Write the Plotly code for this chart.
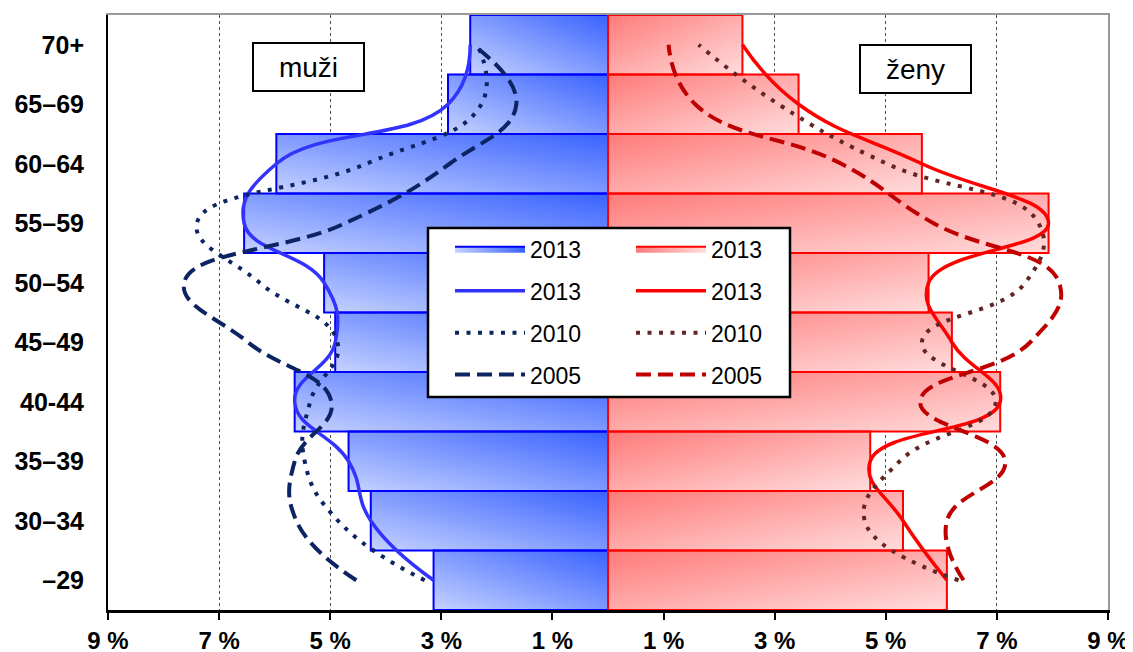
import plotly.graph_objects as go

# ---------------- data (bottom -> top) ----------------
categories = ["–29", "30–34", "35–39", "40-44", "45–49", "50–54", "55–59", "60–64", "65–69", "70+"]

men_2013 = [3.14, 4.27, 4.67, 5.64, 4.91, 5.11, 6.55, 5.97, 2.88, 2.48]
men_2010 = [3.30, 4.86, 5.46, 5.36, 4.87, 6.27, 7.40, 4.35, 2.28, 2.35]
men_2005 = [4.53, 5.61, 5.64, 4.98, 6.48, 7.63, 4.73, 2.85, 1.65, 2.43]

women_2013 = [6.10, 5.31, 4.72, 7.06, 6.19, 5.77, 7.93, 5.65, 3.43, 2.42]
women_2010 = [6.31, 4.62, 5.25, 6.98, 5.65, 7.51, 7.75, 5.02, 3.07, 1.63]
women_2005 = [6.40, 6.10, 7.15, 5.62, 7.60, 8.12, 5.86, 4.20, 1.57, 1.09]

x_tick_values = [-9, -7, -5, -3, -1, 1, 3, 5, 7, 9]
x_tick_labels = ["9 %", "7 %", "5 %", "3 %", "1 %", "1 %", "3 %", "5 %", "7 %", "9 %"]

label_men = "muži"
label_women = "ženy"

# ---------------- styles ----------------
FONT = "Arial, 'Liberation Sans', sans-serif"
MEN_LIGHT = (198, 210, 255)
MEN_DARK = (56, 98, 255)
WOMEN_LIGHT = (255, 220, 220)
WOMEN_DARK = (255, 122, 122)
MEN_BORDER = "#0000FF"
WOMEN_BORDER = "#FF0000"
MEN_LINE = "#3333FF"
MEN_OLD = "#0C2461"
WOMEN_LINE = "#FF0000"
WOMEN_2010 = "#632523"
WOMEN_2005 = "#C00000"
DOT = "4px,7.5px"
DASH = "15px,7px"
SMOOTH = 1.3
HALF = 0.5


def rgba(c, a):
    return f"rgba({c[0]},{c[1]},{c[2]},{a})"


pos = list(range(len(categories)))
fig = go.Figure()

# gradient fills of the bars (vertical opaque + horizontal half-transparent = diagonal)
for values, sign, light, dark in [(men_2013, -1, MEN_LIGHT, MEN_DARK),
                                  (women_2013, 1, WOMEN_LIGHT, WOMEN_DARK)]:
    for p, v in zip(pos, values):
        xs = [0, sign * v, sign * v, 0, 0]
        ys = [p - HALF, p - HALF, p + HALF, p + HALF, p - HALF]
        fig.add_trace(go.Scatter(
            x=xs, y=ys, mode="none", fill="toself",
            fillgradient=dict(type="vertical",
                              colorscale=[[0, rgba(light, 1)], [1, rgba(dark, 1)]]),
            hoverinfo="skip", showlegend=False))
        if sign < 0:
            cs = [[0, rgba(light, 0.5)], [1, rgba(dark, 0.5)]]
        else:
            cs = [[0, rgba(dark, 0.5)], [1, rgba(light, 0.5)]]
        fig.add_trace(go.Scatter(
            x=xs, y=ys, mode="none", fill="toself",
            fillgradient=dict(type="horizontal", colorscale=cs),
            hoverinfo="skip", showlegend=False))

# bars (borders) on overlay axes
fig.add_trace(go.Bar(x=[-v for v in men_2013], y=pos, orientation="h", width=1,
                     marker=dict(color="rgba(0,0,0,0)", line=dict(color=MEN_BORDER, width=2)),
                     xaxis="x2", yaxis="y2", showlegend=False, name="muži 2013",
                     customdata=men_2013, hovertemplate="%{customdata} %<extra></extra>"))
fig.add_trace(go.Bar(x=women_2013, y=pos, orientation="h", width=1,
                     marker=dict(color="rgba(0,0,0,0)", line=dict(color=WOMEN_BORDER, width=2)),
                     xaxis="x2", yaxis="y2", showlegend=False, name="ženy 2013",
                     hovertemplate="%{x} %<extra></extra>"))

# legend entries for the bars
fig.add_trace(go.Scatter(x=[None], y=[None], mode="lines", fill="toself", name="2013",
                         line=dict(color=MEN_BORDER, width=2),
                         fillgradient=dict(type="horizontal",
                                           colorscale=[[0, rgba(MEN_LIGHT, 1)], [1, rgba(MEN_DARK, 1)]]),
                         xaxis="x2", yaxis="y2", legend="legend", legendgroup="m1"))
fig.add_trace(go.Scatter(x=[None], y=[None], mode="lines", fill="toself", name="2013",
                         line=dict(color=WOMEN_BORDER, width=2),
                         fillgradient=dict(type="horizontal",
                                           colorscale=[[0, rgba(WOMEN_DARK, 1)], [1, rgba(WOMEN_LIGHT, 1)]]),
                         xaxis="x2", yaxis="y2", legend="legend2", legendgroup="w1"))

# lines
series = [
    (men_2013, -1, MEN_LINE, None, 3.5, "legend", "m2"),
    (men_2010, -1, MEN_OLD, DOT, 4, "legend", "m3"),
    (men_2005, -1, MEN_OLD, DASH, 4, "legend", "m4"),
    (women_2013, 1, WOMEN_LINE, None, 3.5, "legend2", "w2"),
    (women_2010, 1, WOMEN_2010, DOT, 4, "legend2", "w3"),
    (women_2005, 1, WOMEN_2005, DASH, 4, "legend2", "w4"),
]
names = {"m2": "2013", "m3": "2010", "m4": "2005", "w2": "2013", "w3": "2010", "w4": "2005"}
for values, sign, color, dash, width, leg, grp in series:
    fig.add_trace(go.Scatter(
        x=[sign * v for v in values], y=pos, mode="lines", name=names[grp],
        line=dict(color=color, width=width, dash=dash, shape="spline", smoothing=SMOOTH),
        xaxis="x2", yaxis="y2", legend=leg, legendgroup=grp))

axis_common = dict(fixedrange=True, zeroline=False, automargin=False)
fig.update_layout(
    width=1133, height=652,
    margin=dict(l=100, r=33, t=7, b=50, autoexpand=False),
    paper_bgcolor="white", plot_bgcolor="white",
    font=dict(family=FONT, color="black"),
    barmode="overlay",
    showlegend=True,
    xaxis=dict(range=[-9, 9], tickmode="array", tickvals=x_tick_values, ticktext=x_tick_labels,
               ticks="outside", ticklen=7, tickwidth=2, tickcolor="black",
               showline=True, linecolor="black", linewidth=3,
               showgrid=True, gridcolor="#505050", griddash="dot", gridwidth=1,
               tickfont=dict(size=24, weight="bold", family=FONT), **axis_common),
    yaxis=dict(range=[-0.5, 9.5], tickmode="array", tickvals=pos, ticktext=categories,
               ticks="", showline=True, linecolor="black", linewidth=2, showgrid=False,
               ticklabelstandoff=17,
               tickfont=dict(size=25, weight="bold", family=FONT), **axis_common),
    xaxis2=dict(range=[-9, 9], overlaying="x", side="top", showline=True, linecolor="#9a9a9a",
                linewidth=2, showticklabels=False, ticks="", showgrid=False, **axis_common),
    yaxis2=dict(range=[-0.5, 9.5], overlaying="y", side="right", showline=True, linecolor="#9a9a9a",
                linewidth=2, showticklabels=False, ticks="", showgrid=False, **axis_common),
    legend=dict(x=0.342, y=0.643, xanchor="left", yanchor="top", bgcolor="rgba(0,0,0,0)",
                borderwidth=0, itemwidth=70, traceorder="grouped", tracegroupgap=9,
                font=dict(size=23, family=FONT, color="black")),
    legend2=dict(x=0.523, y=0.643, xanchor="left", yanchor="top", bgcolor="rgba(0,0,0,0)",
                 borderwidth=0, itemwidth=70, traceorder="grouped", tracegroupgap=9,
                 font=dict(size=23, family=FONT, color="black")),
    shapes=[dict(type="rect", xref="paper", yref="paper", x0=0.320, x1=0.682, y0=0.358, y1=0.642,
                 line=dict(color="black", width=2.5), fillcolor="white", layer="above")],
    annotations=[
        dict(x=-5.39, y=8.62, xref="x", yref="y", text=label_men, showarrow=False,
             font=dict(size=28, family=FONT, color="black"), bordercolor="black", borderwidth=2,
             bgcolor="white", width=107, height=44),
        dict(x=5.54, y=8.60, xref="x", yref="y", text=label_women, showarrow=False,
             font=dict(size=28, family=FONT, color="black"), bordercolor="black", borderwidth=2,
             bgcolor="white", width=107, height=44),
    ],
)

fig.write_html("out.html")
